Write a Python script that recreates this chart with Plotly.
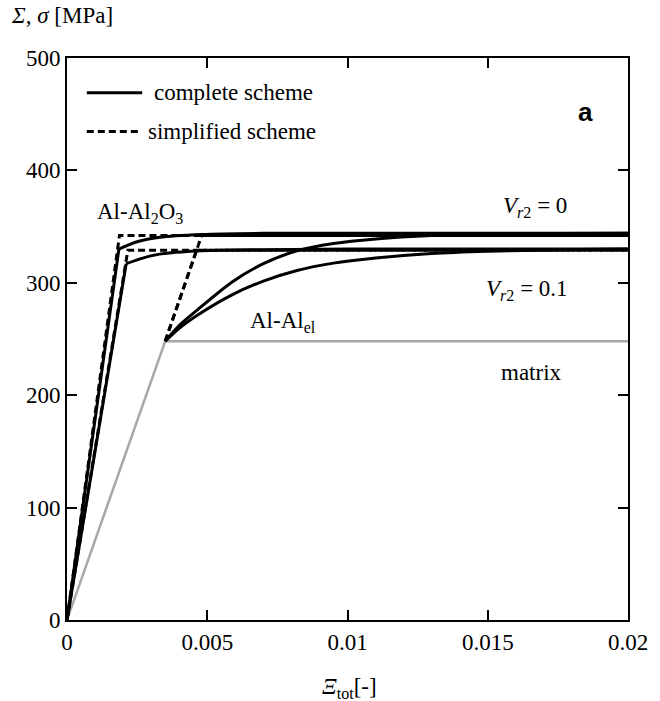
import plotly.graph_objects as go

# Total strain [-] vs. stress [MPa]
# Al-Al2O3 composite, complete scheme
al2o3_v0_x = [0, 0.00185, 0.0025, 0.0033, 0.0048, 0.007, 0.01, 0.02]
al2o3_v0_y = [0, 330, 336.5, 340.5, 343, 344, 344, 344]
al2o3_v01_x = [0, 0.00211, 0.0027, 0.0033, 0.0048, 0.007, 0.01, 0.02]
al2o3_v01_y = [0, 317, 322, 325.5, 328.5, 329.5, 330, 330]

# Al-Al2O3 composite, simplified scheme
al2o3_v0_simp_x = [0, 0.00187, 0.02]
al2o3_v0_simp_y = [0, 342, 342]
al2o3_v01_simp_x = [0, 0.00217, 0.02]
al2o3_v01_simp_y = [0, 329, 329]

# Al-Al_el composite, complete scheme (elastic branch coincides with matrix)
alel_v0_x = [0.0035, 0.004, 0.0047, 0.0059, 0.007, 0.0082, 0.0095, 0.011, 0.013, 0.015, 0.0175, 0.02]
alel_v0_y = [248, 262, 277, 301, 317, 328.5, 335, 339, 342, 343.3, 343.8, 344]
alel_v01_x = [0.0035, 0.004, 0.0047, 0.0059, 0.007, 0.0082, 0.0095, 0.011, 0.013, 0.015, 0.0175, 0.02]
alel_v01_y = [248, 259.5, 272, 289.5, 301.5, 311, 317.5, 322, 326, 328, 329.3, 330]

# Al-Al_el composite, simplified scheme
alel_v0_simp_x = [0.0035, 0.0048, 0.02]
alel_v0_simp_y = [248, 342, 342]
alel_v01_simp_x = [0.0035, 0.00462, 0.02]
alel_v01_simp_y = [248, 329, 329]

# Matrix
matrix_x = [0, 0.0035, 0.02]
matrix_y = [0, 248, 248]

x_ticks = [0, 0.005, 0.01, 0.015, 0.02]
x_tick_text = ["0", "0.005", "0.01", "0.015", "0.02"]
y_ticks = [0, 100, 200, 300, 400, 500]

SERIF = "Liberation Serif"
FS = 23
BLACK = "#000000"
GRAY = "#a8a8a8"
DASH = "7px,4px"

fig = go.Figure()

fig.add_trace(go.Scatter(x=matrix_x, y=matrix_y, mode="lines",
                         line=dict(color=GRAY, width=2.5), showlegend=False))

for xs, ys in [(al2o3_v0_simp_x, al2o3_v0_simp_y), (al2o3_v01_simp_x, al2o3_v01_simp_y),
               (alel_v0_simp_x, alel_v0_simp_y), (alel_v01_simp_x, alel_v01_simp_y)]:
    fig.add_trace(go.Scatter(x=xs, y=ys, mode="lines",
                             line=dict(color=BLACK, width=3, dash=DASH), showlegend=False))

# Al-Al2O3 complete: straight elastic branch, then smooth hardening branch
for xs, ys in [(al2o3_v0_x, al2o3_v0_y), (al2o3_v01_x, al2o3_v01_y)]:
    fig.add_trace(go.Scatter(x=xs[:2], y=ys[:2], mode="lines",
                             line=dict(color=BLACK, width=3), showlegend=False))
    fig.add_trace(go.Scatter(x=xs[1:], y=ys[1:], mode="lines", line_shape="spline",
                             line=dict(color=BLACK, width=3, smoothing=0.8), showlegend=False))

for xs, ys in [(alel_v0_x, alel_v0_y), (alel_v01_x, alel_v01_y)]:
    fig.add_trace(go.Scatter(x=xs, y=ys, mode="lines", line_shape="spline",
                             line=dict(color=BLACK, width=3, smoothing=0.8), showlegend=False))

axis_common = dict(
    showline=True, linecolor=BLACK, linewidth=2, mirror="ticks",
    ticks="inside", ticklen=10, tickwidth=2, tickcolor=BLACK,
    showgrid=False, zeroline=False,
    tickfont=dict(family=SERIF, size=FS, color=BLACK),
)

fig.update_layout(
    width=660, height=701,
    margin=dict(l=67, r=27, t=58, b=81),
    plot_bgcolor="white", paper_bgcolor="white",
    showlegend=False,
    font=dict(family=SERIF, size=FS, color=BLACK),
    xaxis=dict(range=[0, 0.02], tickvals=x_ticks, ticktext=x_tick_text, **axis_common),
    yaxis=dict(range=[0, 500], tickvals=y_ticks, **axis_common),
)

# Legend drawn as line samples with text
fig.add_shape(type="line", xref="paper", yref="paper", x0=0.0353, x1=0.134, y0=0.938, y1=0.938,
              line=dict(color=BLACK, width=3))
fig.add_shape(type="line", xref="paper", yref="paper", x0=0.0353, x1=0.129, y0=0.869, y1=0.869,
              line=dict(color=BLACK, width=3, dash=DASH))

annots = [
    dict(text="complete scheme", x=0.152, y=0.938, xref="paper", yref="paper", xanchor="left"),
    dict(text="simplified scheme", x=0.141, y=0.869, xref="paper", yref="paper", xanchor="left"),
    dict(text="Al-Al<sub>2</sub>O<sub>3</sub>", x=0.00099, y=362, xanchor="left"),
    dict(text="<i>V</i><sub><i>r</i>2</sub> = 0", x=0.01548, y=367, xanchor="left"),
    dict(text="<i>V</i><sub><i>r</i>2</sub> = 0.1", x=0.01488, y=294, xanchor="left"),
    dict(text="Al-Al<sub>el</sub>", x=0.00647, y=265, xanchor="left"),
    dict(text="matrix", x=0.0154, y=220, xanchor="left"),
    dict(text="<i>Σ</i>, <i>σ</i> [MPa]", x=(8 - 67) / 566, y=(620 - 16) / 562,
         xref="paper", yref="paper", xanchor="left"),
    dict(text="<i>Ξ</i><sub>tot</sub>[-]", x=0.5035, y=-0.121, xref="paper", yref="paper",
         xanchor="center"),
]
for a in annots:
    a.setdefault("xref", "x")
    a.setdefault("yref", "y")
    a["yanchor"] = "middle"
    a["showarrow"] = False
    a["font"] = dict(family=SERIF, size=FS, color=BLACK)
    fig.add_annotation(**a)

fig.add_annotation(text="<b>a</b>", x=0.942, y=0.934, xref="paper", yref="paper",
                   showarrow=False, font=dict(family="Liberation Sans", size=26, color=BLACK))

fig.write_html("out.html")
